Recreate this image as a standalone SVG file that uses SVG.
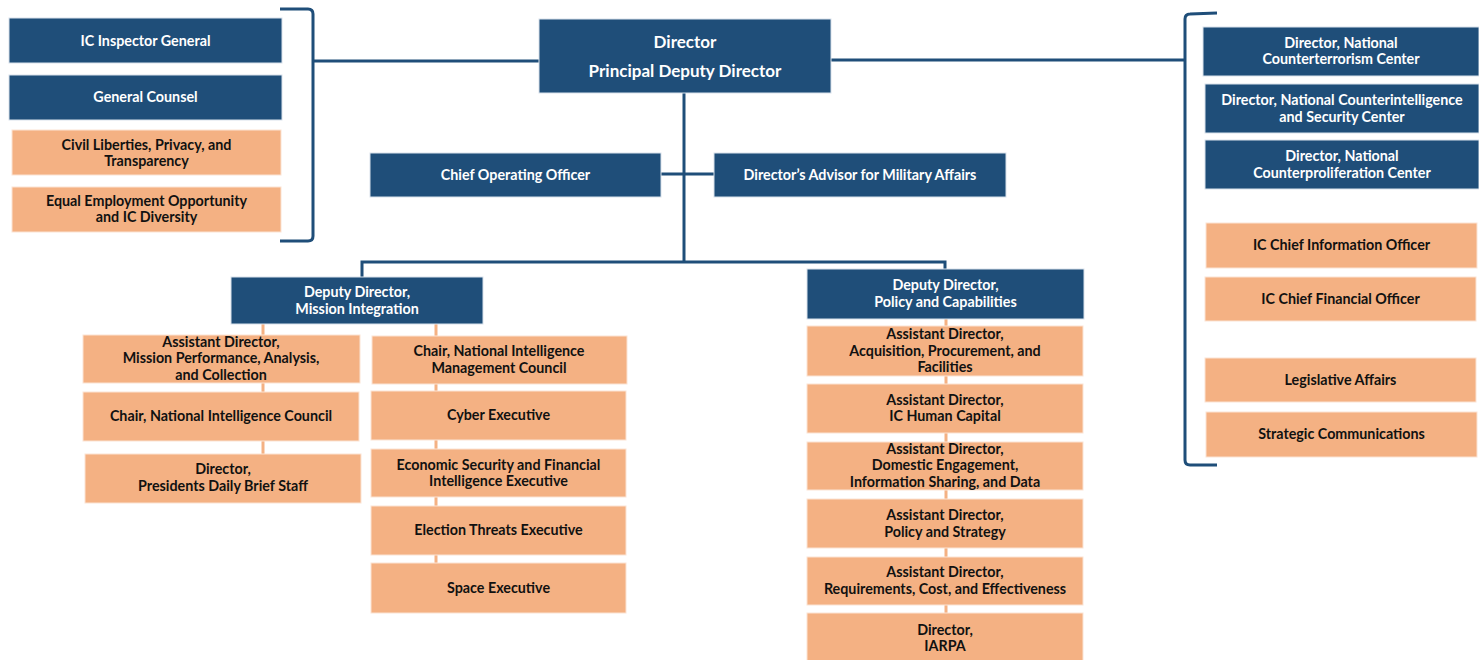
<svg xmlns="http://www.w3.org/2000/svg" width="1479" height="660" viewBox="0 0 1479 660">
<style>
.b{fill:#1F4E79;stroke:#d9e2ec;stroke-width:1}
.o{fill:#F4B183;stroke:#fbe3d3;stroke-width:1}
text{font-family:Lato,"Open Sans","Liberation Sans",sans-serif;font-weight:bold;font-size:14.3px;text-anchor:middle}
.wt{fill:#ffffff}
.dk{fill:#111111}
.bl{fill:none;stroke:#1F4E79;stroke-width:3}
.ol{fill:none;stroke:#F4B183;stroke-width:3}
</style>
<rect width="1479" height="660" fill="#ffffff"/>
<g id="connectors">
<path class="bl" d="M280,9 L308,9 Q313,9 313,14 L313,236 Q313,241 308,241 L280,241"/>
<path class="bl" d="M313,61 L539,61"/>
<path class="bl" d="M1217,13 L1190,14 Q1185,14 1185,19 L1185,460 Q1185,465 1190,465 L1217,465"/>
<path class="bl" d="M831,60 L1185,60"/>
<path class="bl" d="M684,93 L684,262"/>
<path class="bl" d="M661,174 L714,174"/>
<path class="bl" d="M362,277 L362,262 L945,262 L945,269"/>
<path class="ol" d="M263,324 L263,454"/>
<path class="ol" d="M436,324 L436,563"/>
<path class="ol" d="M946,319 L946,613"/>
</g>
<g id="ig"><rect class="b" x="9" y="18" width="273" height="45"/><text class="wt" x="145.5" y="46">IC Inspector General</text></g>
<g id="gc"><rect class="b" x="9" y="75" width="273" height="45"/><text class="wt" x="145.5" y="102">General Counsel</text></g>
<g id="clpt"><rect class="o" x="12" y="130" width="269" height="45"/><text class="dk" x="146.5" y="150">Civil Liberties, Privacy, and</text><text class="dk" x="146.5" y="166">Transparency</text></g>
<g id="eeo"><rect class="o" x="12" y="187" width="269" height="45"/><text class="dk" x="146.5" y="206">Equal Employment Opportunity</text><text class="dk" x="146.5" y="222">and IC Diversity</text></g>
<g id="director"><rect class="b" x="539" y="19" width="292" height="74"/><text class="wt" x="685" y="48" style="font-size:17px">Director</text><text class="wt" x="685" y="77" style="font-size:17px">Principal Deputy Director</text></g>
<g id="nctc"><rect class="b" x="1203" y="27" width="276" height="49"/><text class="wt" x="1341" y="48">Director, National</text><text class="wt" x="1341" y="64">Counterterrorism Center</text></g>
<g id="ncsc"><rect class="b" x="1205" y="84" width="274" height="49"/><text class="wt" x="1342" y="105">Director, National Counterintelligence</text><text class="wt" x="1342" y="122">and Security Center</text></g>
<g id="ncpc"><rect class="b" x="1205" y="140" width="274" height="49"/><text class="wt" x="1342" y="161">Director, National</text><text class="wt" x="1342" y="178">Counterproliferation Center</text></g>
<g id="cio"><rect class="o" x="1206" y="223" width="271" height="45"/><text class="dk" x="1341.5" y="250">IC Chief Information Officer</text></g>
<g id="cfo"><rect class="o" x="1205" y="277" width="271" height="44"/><text class="dk" x="1340.5" y="304">IC Chief Financial Officer</text></g>
<g id="leg"><rect class="o" x="1205" y="358" width="271" height="44"/><text class="dk" x="1340.5" y="385">Legislative Affairs</text></g>
<g id="strat"><rect class="o" x="1206" y="412" width="271" height="45"/><text class="dk" x="1341.5" y="439">Strategic Communications</text></g>
<g id="coo"><rect class="b" x="370" y="153" width="291" height="44"/><text class="wt" x="515.5" y="180">Chief Operating Officer</text></g>
<g id="dama"><rect class="b" x="714" y="153" width="292" height="44"/><text class="wt" x="860" y="180">Director’s Advisor for Military Affairs</text></g>
<g id="ddmi"><rect class="b" x="231" y="277" width="252" height="47"/><text class="wt" x="357" y="297">Deputy Director,</text><text class="wt" x="357" y="314">Mission Integration</text></g>
<g id="ddpc"><rect class="b" x="807" y="269" width="277" height="50"/><text class="wt" x="945.5" y="290">Deputy Director,</text><text class="wt" x="945.5" y="307">Policy and Capabilities</text></g>
<g id="admpac"><rect class="o" x="83" y="335" width="277" height="48"/><text class="dk" x="221" y="347">Assistant Director,</text><text class="dk" x="221" y="363">Mission Performance, Analysis,</text><text class="dk" x="221" y="380">and Collection</text></g>
<g id="nic"><rect class="o" x="83" y="392" width="276" height="49"/><text class="dk" x="221" y="421">Chair, National Intelligence Council</text></g>
<g id="pdb"><rect class="o" x="85" y="454" width="276" height="49"/><text class="dk" x="223" y="474">Director,</text><text class="dk" x="223" y="491">Presidents Daily Brief Staff</text></g>
<g id="nimc"><rect class="o" x="372" y="336" width="255" height="48"/><text class="dk" x="499" y="356">Chair, National Intelligence</text><text class="dk" x="499" y="373">Management Council</text></g>
<g id="cyber"><rect class="o" x="371" y="391" width="255" height="49"/><text class="dk" x="498.5" y="420">Cyber Executive</text></g>
<g id="econ"><rect class="o" x="371" y="449" width="255" height="48"/><text class="dk" x="498.5" y="470">Economic Security and Financial</text><text class="dk" x="498.5" y="486">Intelligence Executive</text></g>
<g id="election"><rect class="o" x="371" y="506" width="255" height="49"/><text class="dk" x="498.5" y="535">Election Threats Executive</text></g>
<g id="space"><rect class="o" x="371" y="563" width="255" height="50"/><text class="dk" x="498.5" y="593">Space Executive</text></g>
<g id="adapf"><rect class="o" x="807" y="326" width="276" height="50"/><text class="dk" x="945" y="339">Assistant Director,</text><text class="dk" x="945" y="356">Acquisition, Procurement, and</text><text class="dk" x="945" y="372">Facilities</text></g>
<g id="adhc"><rect class="o" x="807" y="384" width="276" height="49"/><text class="dk" x="945" y="405">Assistant Director,</text><text class="dk" x="945" y="421">IC Human Capital</text></g>
<g id="adde"><rect class="o" x="807" y="442" width="276" height="48"/><text class="dk" x="945" y="454">Assistant Director,</text><text class="dk" x="945" y="470">Domestic Engagement,</text><text class="dk" x="945" y="487">Information Sharing, and Data</text></g>
<g id="adps"><rect class="o" x="807" y="499" width="276" height="49"/><text class="dk" x="945" y="520">Assistant Director,</text><text class="dk" x="945" y="537">Policy and Strategy</text></g>
<g id="adrce"><rect class="o" x="807" y="557" width="276" height="48"/><text class="dk" x="945" y="577">Assistant Director,</text><text class="dk" x="945" y="594">Requirements, Cost, and Effectiveness</text></g>
<g id="iarpa"><rect class="o" x="807" y="613" width="276" height="50"/><text class="dk" x="945" y="635">Director,</text><text class="dk" x="945" y="651">IARPA</text></g>
</svg>
